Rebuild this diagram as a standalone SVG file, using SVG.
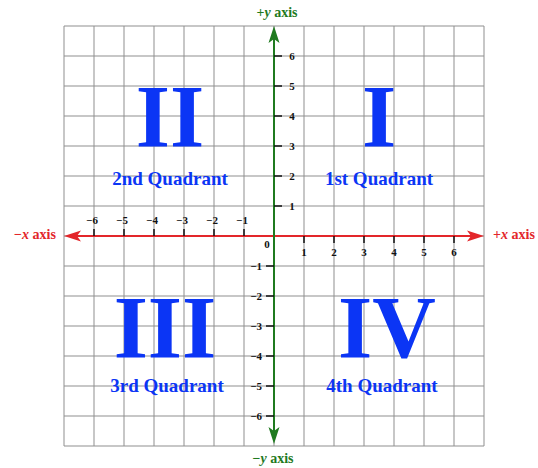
<svg xmlns="http://www.w3.org/2000/svg" width="538" height="468" viewBox="0 0 538 468">
<style>
.grid line{stroke:#8f8f8f;stroke-width:1}
.num{font-family:"Liberation Serif","Times New Roman",serif;font-weight:bold;fill:#0b35f5;font-size:88px;text-anchor:middle}
.ql{font-family:"Liberation Serif","Times New Roman",serif;font-weight:bold;fill:#0b35f5;font-size:19px;text-anchor:middle}
.tk{stroke:#111;stroke-width:1.5}
.tl{font-family:"Liberation Serif","Times New Roman",serif;font-weight:bold;fill:#111;font-size:11px;text-anchor:middle}
.tlr{font-family:"Liberation Serif","Times New Roman",serif;font-weight:bold;fill:#111;font-size:11px;text-anchor:end}
.ax{font-family:"Liberation Serif","Times New Roman",serif;font-weight:bold;font-size:14px;text-anchor:middle}
.g{fill:#1f7a1f}
.r{fill:#e3262a}
</style>
<rect width="538" height="468" fill="#fff"/>
<g class="grid" id="grid">
<line x1="64" y1="26" x2="64" y2="446"/><line x1="94" y1="26" x2="94" y2="446"/><line x1="124" y1="26" x2="124" y2="446"/><line x1="154" y1="26" x2="154" y2="446"/><line x1="184" y1="26" x2="184" y2="446"/><line x1="214" y1="26" x2="214" y2="446"/><line x1="244" y1="26" x2="244" y2="446"/><line x1="274" y1="26" x2="274" y2="446"/><line x1="304" y1="26" x2="304" y2="446"/><line x1="334" y1="26" x2="334" y2="446"/><line x1="364" y1="26" x2="364" y2="446"/><line x1="394" y1="26" x2="394" y2="446"/><line x1="424" y1="26" x2="424" y2="446"/><line x1="454" y1="26" x2="454" y2="446"/><line x1="484" y1="26" x2="484" y2="446"/>
<line x1="64" y1="26" x2="484" y2="26"/><line x1="64" y1="56" x2="484" y2="56"/><line x1="64" y1="86" x2="484" y2="86"/><line x1="64" y1="116" x2="484" y2="116"/><line x1="64" y1="146" x2="484" y2="146"/><line x1="64" y1="176" x2="484" y2="176"/><line x1="64" y1="206" x2="484" y2="206"/><line x1="64" y1="236" x2="484" y2="236"/><line x1="64" y1="266" x2="484" y2="266"/><line x1="64" y1="296" x2="484" y2="296"/><line x1="64" y1="326" x2="484" y2="326"/><line x1="64" y1="356" x2="484" y2="356"/><line x1="64" y1="386" x2="484" y2="386"/><line x1="64" y1="416" x2="484" y2="416"/><line x1="64" y1="446" x2="484" y2="446"/>
</g>
<g id="quadrant-2"><text class="num" x="170" y="146">II</text><text class="ql" x="170" y="185">2nd Quadrant</text></g>
<g id="quadrant-1"><text class="num" x="379" y="146">I</text><text class="ql" x="379" y="185">1st Quadrant</text></g>
<g id="quadrant-3"><text class="num" x="165" y="357">III</text><text class="ql" x="167" y="392">3rd Quadrant</text></g>
<g id="quadrant-4"><text class="num" x="387" y="357">IV</text><text class="ql" x="382" y="392">4th Quadrant</text></g>
<g id="axes">
<line x1="74" y1="236" x2="474" y2="236" stroke="#e3262a" stroke-width="2"/>
<path class="r" d="M64,236 L81,230.5 L77,236 L81,241.5 Z"/>
<path class="r" d="M484,236 L467,230.5 L471,236 L467,241.5 Z"/>
<line x1="274" y1="36" x2="274" y2="434" stroke="#1f7a1f" stroke-width="2"/>
<path class="g" d="M274,26 L268.5,43 L274,39 L279.5,43 Z"/>
<path class="g" d="M274,444 L268.5,427 L274,431 L279.5,427 Z"/>
</g>
<g id="ticks">
<path class="tk" d="M274,56h8M274,86h8M274,116h8M274,146h8M274,176h8M274,206h8M266,266h8M266,296h8M266,326h8M266,356h8M266,386h8M266,416h8M94,229v7M124,229v7M154,229v7M184,229v7M214,229v7M244,229v7M304,236v7M334,236v7M364,236v7M394,236v7M424,236v7M454,236v7"/>
</g>
<g id="tick-labels">
<text class="tl" x="292" y="60">6</text><text class="tl" x="292" y="90">5</text><text class="tl" x="292" y="120">4</text><text class="tl" x="292" y="150">3</text><text class="tl" x="292" y="180">2</text><text class="tl" x="292" y="210">1</text>
<text class="tlr" x="262" y="270">−1</text><text class="tlr" x="262" y="300">−2</text><text class="tlr" x="262" y="330">−3</text><text class="tlr" x="262" y="360">−4</text><text class="tlr" x="262" y="390">−5</text><text class="tlr" x="262" y="420">−6</text>
<text class="tl" x="92" y="224">−6</text><text class="tl" x="122" y="224">−5</text><text class="tl" x="152" y="224">−4</text><text class="tl" x="182" y="224">−3</text><text class="tl" x="212" y="224">−2</text><text class="tl" x="242" y="224">−1</text>
<text class="tl" x="304" y="256">1</text><text class="tl" x="334" y="256">2</text><text class="tl" x="364" y="256">3</text><text class="tl" x="394" y="256">4</text><text class="tl" x="424" y="256">5</text><text class="tl" x="454" y="256">6</text>
<text class="tl" x="267" y="248">0</text>
</g>
<g id="axis-labels">
<text class="ax g" x="277" y="17">+<tspan font-style="italic">y</tspan> axis</text>
<text class="ax g" x="273" y="463">−<tspan font-style="italic">y</tspan> axis</text>
<text class="ax r" x="35" y="239">−<tspan font-style="italic">x</tspan> axis</text>
<text class="ax r" x="514" y="239">+<tspan font-style="italic">x</tspan> axis</text>
</g>
</svg>
